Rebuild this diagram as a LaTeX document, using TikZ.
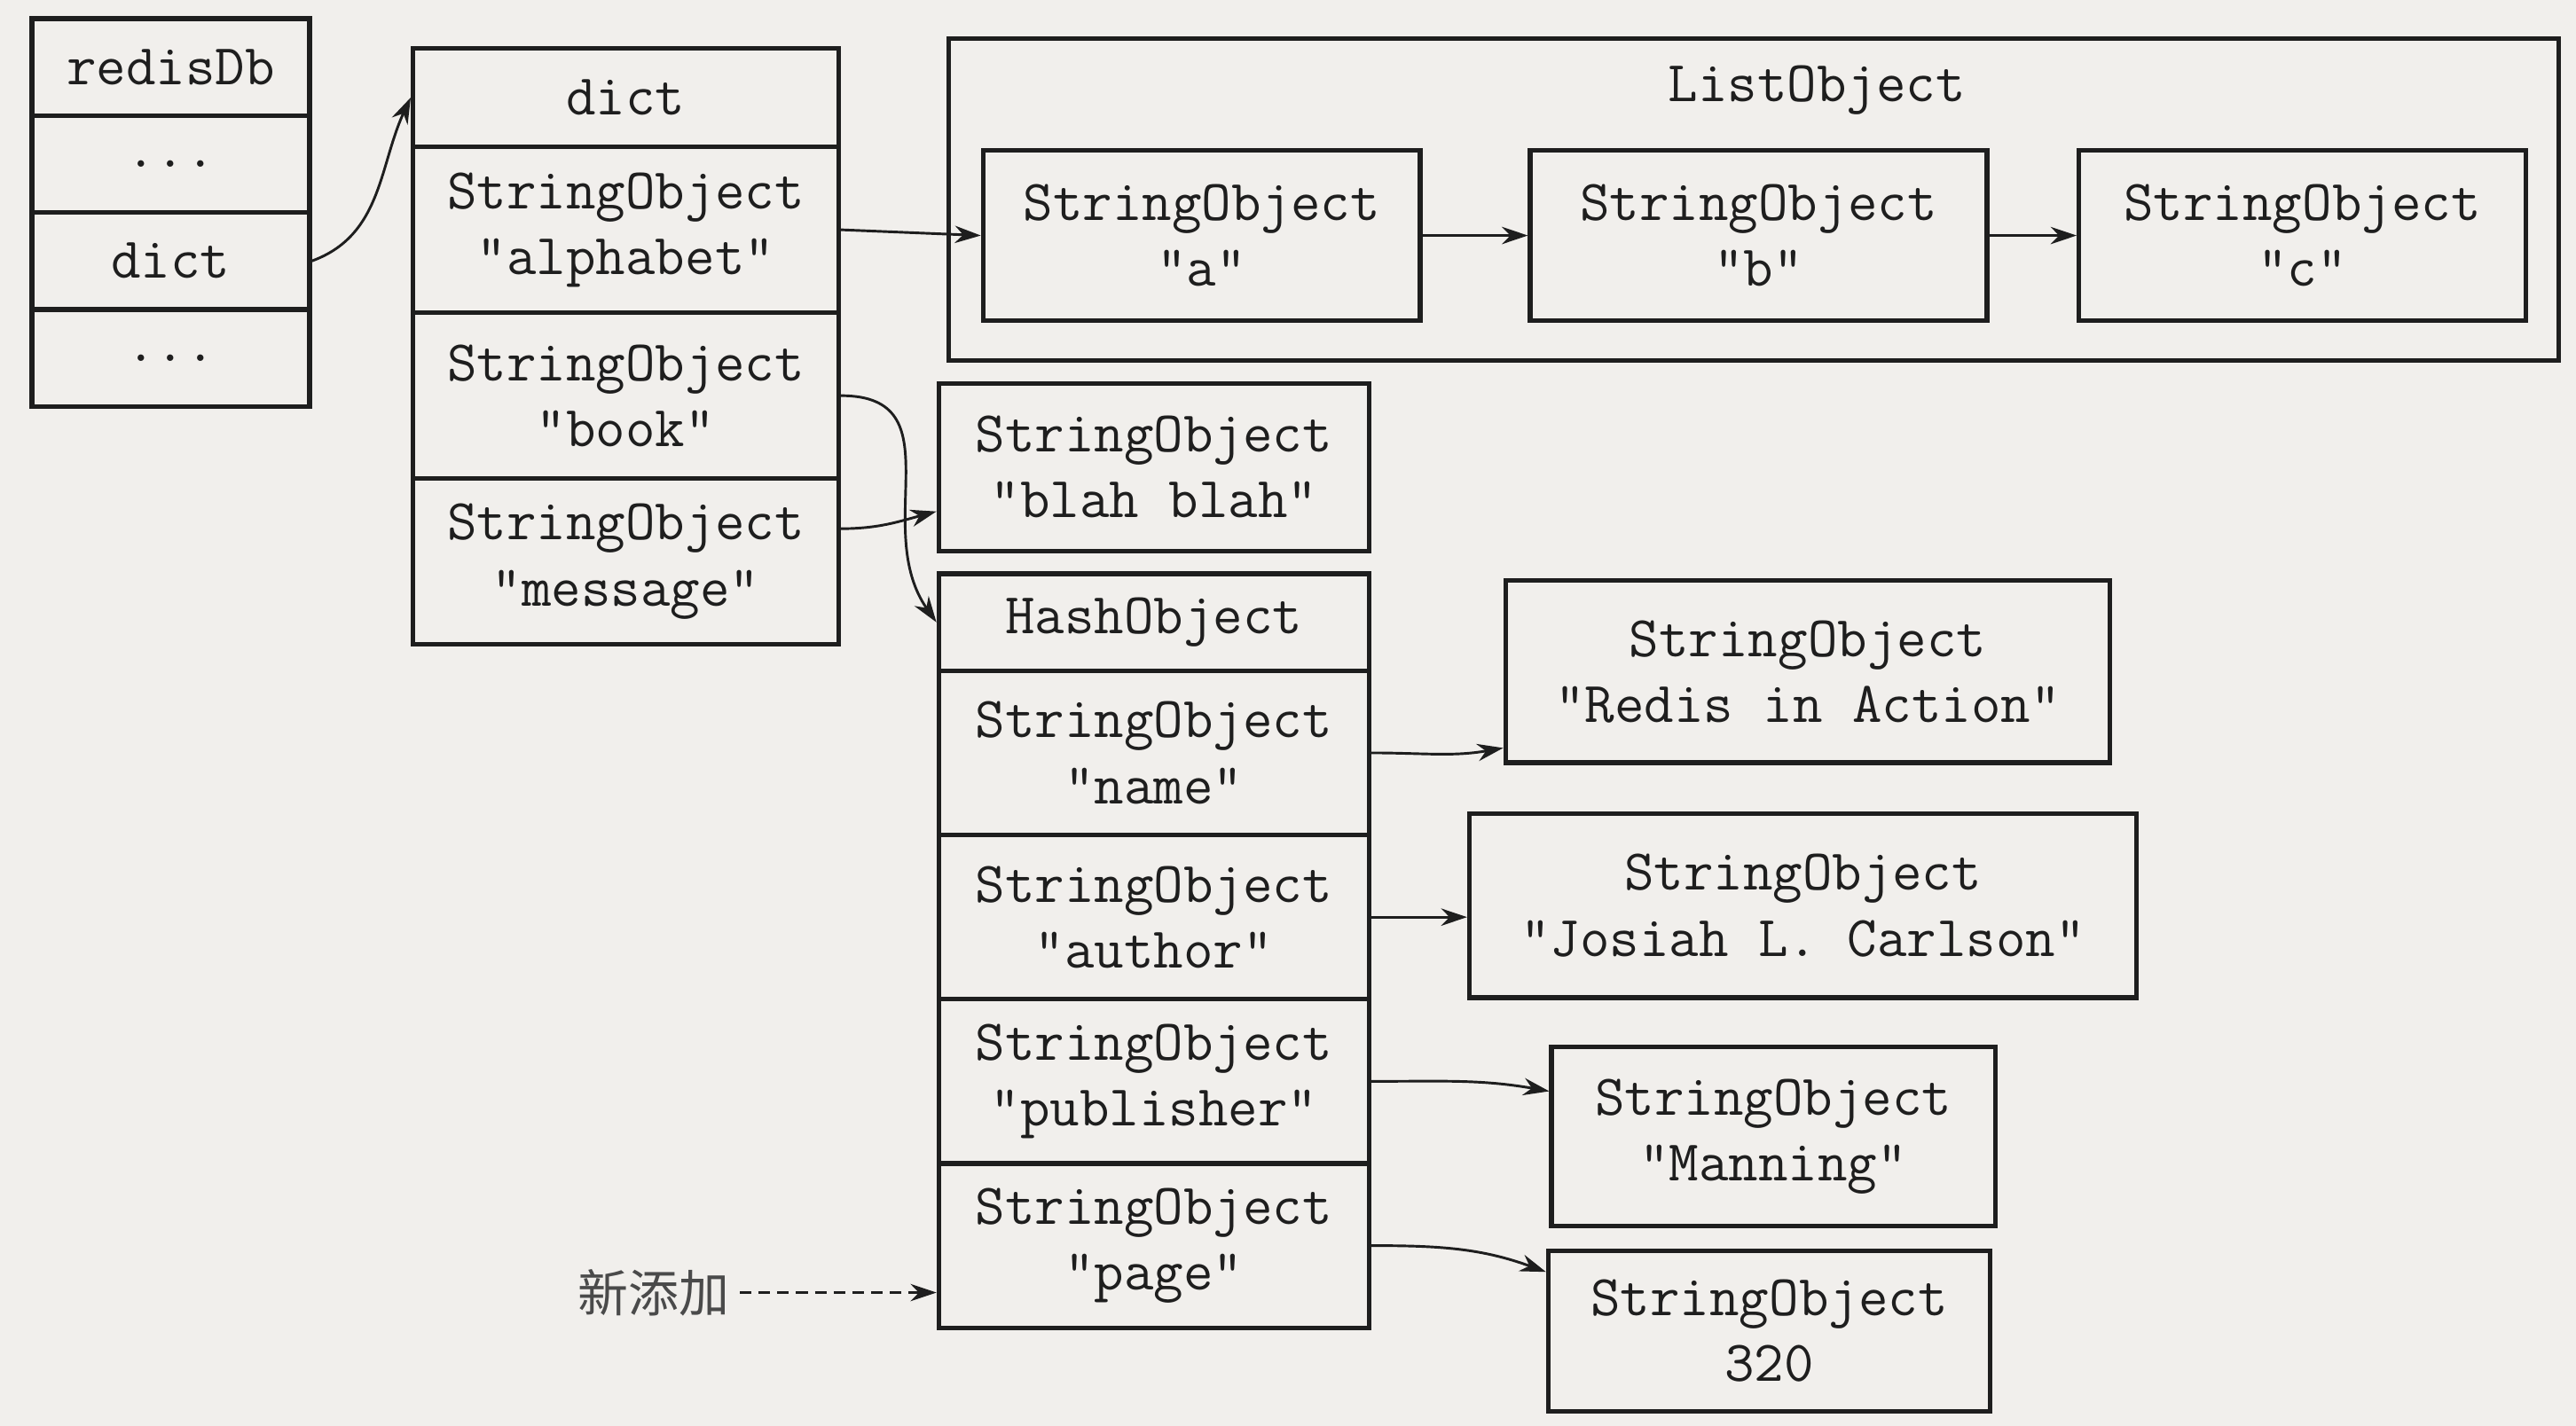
\documentclass[tikz,border=0pt]{standalone}
\usepackage{fontspec}
\newfontfamily\cjk{Noto Sans CJK SC}
\usetikzlibrary{arrows.meta,calc}

\definecolor{ink}{HTML}{1E1E1E}
\definecolor{paper}{HTML}{F1EFEC}
\definecolor{note}{HTML}{4A4A4A}

\tikzset{
    cell/.style={draw=ink, line width=1.6pt, inner sep=0pt, anchor=north west,
                 align=center, text=ink, font=\ttfamily\fontsize{20}{22.8}\selectfont},
    wd/.style={minimum width=#1*0.02cm},
    ht/.style={minimum height=#1*0.02cm},
    link/.style={draw=ink, line width=0.9pt, -{Stealth[length=9pt,width=6pt]}},
}

\begin{document}
\begin{tikzpicture}[x=0.02cm, y=0.02cm]
    \fill[paper] (0,0) rectangle (1568,868);
    \useasboundingbox (0,0) rectangle (1568,868);

    % redisDb
    \node[cell, wd=169, ht=59] (db1) at (18,858) {redisDb};
    \node[cell, wd=169, ht=59] (db2) at (18,799) {...};
    \node[cell, wd=169, ht=59] (db3) at (18,740) {dict};
    \node[cell, wd=169, ht=59] (db4) at (18,681) {...};

    % dict
    \node[cell, wd=259, ht=60] (d0) at (250,840) {dict};
    \foreach \k [count=\i] in {alphabet,book,message} {
      \pgfmathsetmacro\y{780-(\i-1)*101}
      \node[cell, wd=259, ht=101] (d\i) at (250,\y) {StringObject\\"\k"};
    }

    % ListObject
    \node[cell, wd=980, ht=196] (list) at (576,846) {};
    \node[text=ink, font=\ttfamily\fontsize{20}{22.8}\selectfont] (listname) at (1106,813) {ListObject};
    \node[cell, wd=266, ht=104] (la) at (597,778) {StringObject\\"a"};
    \node[cell, wd=278, ht=104] (lb) at (930,778) {StringObject\\"b"};
    \node[cell, wd=272, ht=104] (lc) at (1264,778) {StringObject\\"c"};

    \node[cell, wd=262, ht=102] (blah) at (570,636) {StringObject\\"blah blah"};

    % HashObject
    \node[cell, wd=262, ht=59] (h0) at (570,520) {HashObject};
    \foreach \k [count=\i] in {name,author,publisher,page} {
      \pgfmathsetmacro\y{461-(\i-1)*100}
      \node[cell, wd=262, ht=100] (h\i) at (570,\y) {StringObject\\"\k"};
    }

    % values of the hash
    \node[cell, wd=368, ht=111] (v1) at (915,516) {StringObject\\"Redis in Action"};
    \node[cell, wd=406, ht=112] (v2) at (893,374) {StringObject\\"Josiah L. Carlson"};
    \node[cell, wd=270, ht=109] (v3) at (943,232) {StringObject\\"Manning"};
    \node[cell, wd=269, ht=98]  (v4) at (941,108) {StringObject\\320};

    \node[text=note, font=\cjk\fontsize{17.5}{20}\selectfont] (new) at (398,81) {新添加};

    % Links
    \draw[link] (db3.east) to[out=20,in=245] (d0.west);
    \draw[link] (d1.east) -- (la.west);
    \draw[link] (la) -- (lb);
    \draw[link] (lb) -- (lc);
    \draw[link] (d2.east) to[out=0,in=125,looseness=1.2] (h0.west);
    \draw[link] ($(d3.east)+(0,20)$) to[out=0,in=195] ($(blah.west)+(0,-27)$);

    \draw[link] (h1.east) to[out=0,in=190] ($(h1.east -| v1.west)+(0,3)$);
    \draw[link] (h2.east) -- (h2.east -| v2.west);
    \draw[link] (h3.east) to[out=0,in=170] ($(h3.east -| v3.west)+(0,-6)$);
    \draw[link] (h4.east) to[out=0,in=160] ($(h4.east -| v4.west)+(0,-16)$);
    \draw[link, line width=0.7pt, dash pattern=on 4pt off 2.5pt] (new.east) -- (new.east -| h4.west);

  \end{tikzpicture}
\end{document}
